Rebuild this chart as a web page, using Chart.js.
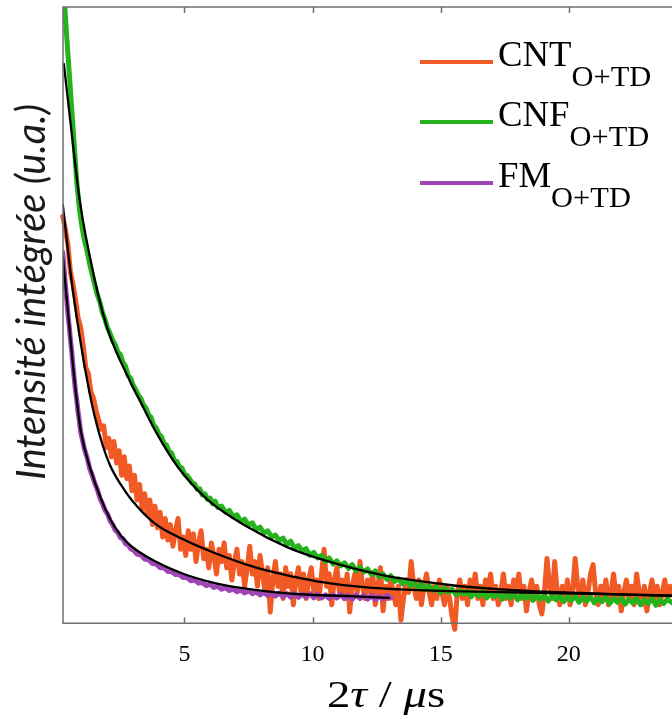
<!DOCTYPE html>
<html><head><meta charset="utf-8">
<script src="https://cdn.jsdelivr.net/npm/chart.js@4"></script>
<style>
html,body{margin:0;padding:0;background:#fff;}
#wrap{position:relative;width:672px;height:719px;overflow:hidden;}
#c{position:absolute;left:0;top:0;}
.t{position:absolute;white-space:nowrap;color:#000;font-family:'Liberation Serif','Times New Roman',serif;line-height:1;transform-origin:0 0;}
.leg{font-size:35px;transform:scaleX(1.05);}
.leg sub{font-size:29px;vertical-align:baseline;position:relative;top:20px;}
.ln{position:absolute;left:420px;width:73px;height:4px;}
#xt{font-size:38px;transform:scaleX(1.23);}
#yt{position:absolute;left:30px;top:292px;transform:translate(-50%,-50%) rotate(-90deg);white-space:nowrap;font-family:Lato,'Open Sans',sans-serif;font-style:italic;font-size:40px;line-height:1;color:#1a1a1a;}
</style></head><body>
<div id="wrap">
<canvas id="c" width="672" height="719"></canvas>
<div class="ln" style="top:60px;background:#F15A24"></div>
<div class="ln" style="top:120px;background:#24B31D"></div>
<div class="ln" style="top:181px;background:#A045B5"></div>
<div class="t leg" style="left:498px;top:37px">CNT<sub>O+TD</sub></div>
<div class="t leg" style="left:498px;top:97px">CNF<sub>O+TD</sub></div>
<div class="t leg" style="left:498px;top:158px">FM<sub>O+TD</sub></div>
<div class="t" id="xt" style="left:327px;top:675px">2<i>τ</i> / <i>μ</i>s</div>
<div id="yt">Intensité intégrée (u.a.)</div>
</div>
<script>
// x range of the visible plot and tick labels
const xRange = [0.26, 24.03];
const yRange = [0, 100];
const xTickValues = [5, 10, 15, 20];
const seriesNames = ['CNT O+TD', 'CNF O+TD', 'FM O+TD'];

// CNT (orange) measured data
const cntData = [[0.25,66],[0.35,64],[0.45,61.5],[0.55,57],[0.65,55],[0.75,52.5],[0.85,49.5],[0.95,48],[1.05,45],[1.15,41.5],[1.25,40.5],[1.35,37.5],[1.45,36.5],[1.55,34.5],[1.65,33],[1.75,31.5],[1.85,32],[1.95,28.5],[2.05,30],[2.15,27],[2.25,29.5],[2.35,26],[2.45,28],[2.55,24],[2.65,27],[2.75,23.5],[2.85,25.5],[2.95,21.5],[3.05,24],[3.15,20],[3.25,22.5],[3.35,18.5],[3.45,21],[3.55,17.5],[3.65,20],[3.75,16],[3.85,19],[3.95,15.5],[4.05,18],[4.15,14],[4.25,17],[4.35,13.5],[4.45,16],[4.55,12.5],[4.65,15],[4.75,17],[4.85,12],[4.95,14],[5.05,11],[5.15,15],[5.25,12],[5.35,14.5],[5.45,10],[5.55,13],[5.65,15],[5.75,10.5],[5.85,12],[5.95,9],[6.05,13],[6.15,11],[6.25,8],[6.35,12],[6.45,10],[6.55,13],[6.65,9],[6.75,11],[6.85,7],[6.95,10],[7.05,12],[7.15,8],[7.25,10],[7.35,6],[7.45,9],[7.55,12.5],[7.65,8],[7.75,10],[7.85,6],[7.95,11],[8.05,8],[8.15,5],[8.25,9],[8.35,1.8],[8.45,7],[8.55,10],[8.65,6],[8.75,8],[8.85,4],[8.95,9],[9.05,6],[9.15,8],[9.25,3],[9.35,7],[9.45,9],[9.55,5],[9.65,8],[9.75,4],[9.85,7],[9.95,9],[10.05,5],[10.15,7],[10.25,4],[10.35,8],[10.45,12],[10.55,6],[10.65,8],[10.75,3],[10.85,7],[10.95,9],[11.05,5],[11.15,7],[11.25,4],[11.35,8],[11.45,1.8],[11.55,6],[11.65,8],[11.75,5],[11.85,10],[11.95,6],[12.05,4],[12.15,7],[12.25,5],[12.35,8],[12.45,3],[12.55,6],[12.65,9],[12.75,2],[12.85,6],[12.95,4],[13.05,7],[13.15,5],[13.25,3],[13.35,6],[13.45,0.5],[13.55,4],[13.65,7],[13.75,5],[13.85,10],[13.95,6],[14.05,4],[14.15,7],[14.25,3],[14.35,6],[14.45,8],[14.55,5],[14.65,3],[14.75,6],[14.85,4],[14.95,7],[15.05,5],[15.15,3],[15.25,6],[15.35,4],[15.45,1],[15.55,-1],[15.65,5],[15.75,7],[15.85,4],[15.95,6],[16.05,3],[16.15,7],[16.25,5],[16.35,8],[16.45,4],[16.55,6],[16.65,3],[16.75,7],[16.85,5],[16.95,8],[17.05,4],[17.15,6],[17.25,3],[17.35,5],[17.45,8],[17.55,4],[17.65,6],[17.75,3],[17.85,7],[17.95,5],[18.05,8],[18.15,4],[18.25,6],[18.35,2],[18.45,5],[18.55,7],[18.65,4],[18.75,6],[18.85,3],[18.95,1.5],[19.05,5],[19.15,10.5],[19.25,6],[19.35,4],[19.45,10],[19.55,5],[19.65,3],[19.75,6],[19.85,4],[19.95,7],[20.05,3],[20.15,5],[20.25,10.5],[20.35,6],[20.45,4],[20.55,7],[20.65,3],[20.75,5],[20.85,8],[20.95,9.5],[21.05,5],[21.15,3],[21.25,6],[21.35,4],[21.45,7],[21.55,3],[21.65,5],[21.75,8],[21.85,4],[21.95,6],[22.05,2],[22.15,5],[22.25,7],[22.35,4],[22.45,6],[22.55,3],[22.65,8],[22.75,5],[22.85,3],[22.95,6],[23.05,2],[23.15,5],[23.25,7],[23.35,4],[23.45,6],[23.55,3],[23.65,5],[23.75,7],[23.85,4],[23.95,6],[24.05,5]];

// CNF (green) measured data
const cnfData = [[0.26,104],[0.33,100],[0.40,95.5],[0.50,89.5],[0.60,83.5],[0.70,77.5],[0.80,71.5],[0.90,67.2],[1.00,64.3],[1.10,62.1],[1.20,60.4],[1.30,58.3],[1.40,56.6],[1.50,54.9],[1.60,53.3],[1.70,52.1],[1.80,50.4],[1.90,49.3],[2.00,47.9],[2.10,47.0],[2.20,45.9],[2.30,45.2],[2.40,44.0],[2.50,43.6],[2.60,42.3],[2.70,41.7],[2.80,40.2],[2.90,39.8],[3.00,38.6],[3.10,37.9],[3.20,37.0],[3.30,36.5],[3.40,35.4],[3.50,34.9],[3.60,33.8],[3.70,33.4],[3.80,32.1],[3.90,31.7],[4.00,30.7],[4.10,30.3],[4.20,29.2],[4.30,28.9],[4.40,27.9],[4.50,27.6],[4.60,26.5],[4.70,26.3],[4.80,25.4],[4.90,25.2],[5.00,24.2],[5.10,24.0],[5.20,23.4],[5.30,22.8],[5.40,22.6],[5.50,21.7],[5.60,21.8],[5.70,20.8],[5.80,21.0],[5.90,20.1],[6.00,20.3],[6.10,19.4],[6.20,19.8],[6.30,18.8],[6.45,19.0],[6.60,18.0],[6.75,18.3],[6.90,17.3],[7.05,17.6],[7.20,16.5],[7.35,16.9],[7.50,15.9],[7.65,16.3],[7.80,15.2],[7.95,15.6],[8.10,14.6],[8.25,15.0],[8.40,14.0],[8.55,14.3],[8.70,13.4],[8.85,13.8],[9.00,12.8],[9.15,13.3],[9.30,12.1],[9.45,12.6],[9.60,11.7],[9.75,12.1],[9.90,11.0],[10.05,11.5],[10.20,10.6],[10.35,11.0],[10.50,10.0],[10.65,10.6],[10.80,9.6],[10.95,10.1],[11.10,9.3],[11.25,9.8],[11.40,8.9],[11.55,9.5],[11.70,8.5],[11.85,9.1],[12.00,8.3],[12.15,8.8],[12.30,7.9],[12.45,8.5],[12.60,7.5],[12.75,8.0],[12.90,7.1],[13.05,7.7],[13.20,6.8],[13.35,7.2],[13.50,6.4],[13.65,7.0],[13.80,6.1],[13.95,6.6],[14.10,5.8],[14.25,6.4],[14.40,5.5],[14.55,6.1],[14.70,5.3],[14.85,5.9],[15.00,4.9],[15.15,5.7],[15.30,5.0],[15.45,5.5],[15.60,4.6],[15.75,5.3],[15.90,4.7],[16.05,5.2],[16.20,4.3],[16.35,5.0],[16.50,4.4],[16.65,5.1],[16.80,4.1],[16.95,4.8],[17.10,4.3],[17.25,4.9],[17.40,3.9],[17.55,4.7],[17.70,4.1],[17.85,4.8],[18.00,3.8],[18.15,4.6],[18.30,4.0],[18.45,4.7],[18.60,3.7],[18.75,4.5],[18.90,3.9],[19.05,4.6],[19.20,3.6],[19.35,4.4],[19.50,3.8],[19.65,4.5],[19.80,3.5],[19.95,4.3],[20.10,3.7],[20.25,4.4],[20.40,3.4],[20.55,4.2],[20.70,3.6],[20.85,4.3],[21.00,3.3],[21.15,4.1],[21.30,3.5],[21.45,4.2],[21.60,3.2],[21.75,4.0],[21.90,3.4],[22.05,4.1],[22.20,3.1],[22.35,3.9],[22.50,3.3],[22.65,4.0],[22.80,3.0],[22.95,3.8],[23.10,3.2],[23.25,4.0],[23.40,2.9],[23.55,3.8],[23.70,3.2],[23.85,3.9],[24.05,3.3]];

// FM (purple) measured data
const fmData = [[0.25,60.2],[0.30,57.6],[0.35,55.0],[0.40,52.8],[0.45,50.3],[0.50,48.3],[0.55,46.1],[0.60,44.1],[0.65,41.7],[0.70,39.7],[0.75,37.6],[0.80,36.1],[0.85,34.2],[0.90,32.7],[0.95,31.0],[1.00,30.1],[1.10,28.2],[1.20,26.9],[1.30,25.1],[1.40,24.0],[1.50,22.7],[1.60,21.7],[1.70,20.3],[1.80,19.4],[1.90,18.3],[2.00,17.7],[2.10,16.6],[2.20,16.0],[2.30,15.1],[2.40,14.7],[2.50,13.9],[2.60,13.7],[2.70,12.9],[2.80,12.7],[2.90,12.1],[3.00,11.9],[3.15,11.2],[3.30,11.1],[3.45,10.4],[3.60,10.3],[3.75,9.7],[3.90,9.6],[4.05,9.0],[4.20,9.0],[4.35,8.4],[4.50,8.4],[4.65,7.9],[4.80,7.9],[4.95,7.4],[5.10,7.4],[5.25,6.9],[5.40,7.0],[5.55,6.5],[5.70,6.6],[5.85,6.1],[6.00,6.3],[6.15,5.8],[6.30,6.0],[6.45,5.5],[6.60,5.8],[6.75,5.3],[6.90,5.6],[7.05,5.1],[7.20,5.4],[7.35,4.9],[7.50,5.3],[7.65,4.8],[7.80,5.1],[7.95,4.6],[8.10,5.0],[8.25,4.5],[8.40,4.9],[8.55,4.4],[8.70,4.9],[8.85,4.3],[9.00,4.8],[9.15,4.2],[9.30,4.8],[9.45,4.2],[9.60,4.7],[9.75,4.2],[9.90,4.8],[10.05,4.1],[10.20,4.7],[10.35,4.1],[10.50,4.6],[10.65,4.0],[10.80,4.6],[10.95,4.1],[11.10,4.7],[11.25,4.0],[11.40,4.5],[11.55,3.9],[11.70,4.6],[11.85,4.0],[12.00,4.5],[12.15,3.9],[12.30,4.5],[12.45,3.8],[12.60,4.4],[12.75,3.9],[12.90,4.5],[13.05,4.1]];

// fitted curves (black)
const cntFit = [[0.25,68.0],[0.59,55.7],[0.91,46.5],[1.23,38.8],[1.50,33.5],[1.80,29.0],[2.10,25.6],[2.50,22.6],[2.94,20.0],[3.84,16.2],[5.01,13.5],[6.18,11.4],[7.74,9.1],[9.31,7.5],[10.16,6.8],[12.11,5.8],[13.40,5.5],[15.36,5.2],[19.26,4.9],[24.03,4.5]];
const cnfFit = [[0.29,90.9],[0.60,79.5],[0.91,68.7],[1.50,55.7],[2.01,47.6],[2.86,39.4],[3.25,36.2],[3.92,30.8],[4.75,25.3],[5.91,20.0],[7.47,15.6],[9.03,12.3],[10.16,10.6],[12.74,7.8],[15.36,6.2],[17.31,5.5],[20.43,4.9],[24.03,4.4]];
const fmFit = [[0.25,59.6],[0.52,47.6],[0.71,39.4],[0.95,31.3],[1.31,25.3],[1.77,19.9],[2.28,15.6],[2.79,13.0],[3.57,10.7],[4.90,8.1],[6.19,6.5],[7.75,5.4],[9.50,4.7],[11.45,4.4],[13.01,4.1]];

const colors = {cnt:'#F15A24', cnf:'#24B31D', fm:'#A045B5', fit:'#000000', axis:'#6f6f6f'};
const pts = a => a.map(([x,y]) => ({x, y}));

const frame = {
  id: 'frame',
  afterDatasetsDraw(chart) {
    const {ctx, chartArea: a, scales: {x}} = chart;
    ctx.save();
    ctx.strokeStyle = colors.axis;
    ctx.lineWidth = 1.5;
    ctx.beginPath();
    ctx.moveTo(a.right + 2, a.top); ctx.lineTo(a.left, a.top);
    ctx.lineTo(a.left, a.bottom); ctx.lineTo(a.right + 2, a.bottom);
    for (const v of xTickValues) {
      const px = Math.round(x.getPixelForValue(v)) + 0.5;
      ctx.moveTo(px, a.bottom); ctx.lineTo(px, a.bottom - 6);
      ctx.moveTo(px, a.top); ctx.lineTo(px, a.top + 6);
    }
    ctx.stroke();
    ctx.restore();
  }
};

const dataLine = (label, d, c, ord, clip) => ({label, data: pts(d), borderColor: c, backgroundColor: c,
  borderWidth: 5, pointRadius: 0, tension: 0, borderJoinStyle: 'round', borderCapStyle: 'round', order: ord, clip});
const fitLine = (label, d) => ({label, data: pts(d), borderColor: colors.fit, borderWidth: 2.3, pointRadius: 0,
  cubicInterpolationMode: 'monotone', order: 0});

new Chart(document.getElementById('c'), {
  type: 'line',
  data: { datasets: [
    fitLine('CNT fit', cntFit), fitLine('CNF fit', cnfFit), fitLine('FM fit', fmFit),
    dataLine(seriesNames[2], fmData, colors.fm, 1),
    dataLine(seriesNames[1], cnfData, colors.cnf, 2),
    dataLine(seriesNames[0], cntData, colors.cnt, 3, {left: 3, top: 0, right: 0, bottom: 10})
  ]},
  options: {
    responsive: false, animation: false, devicePixelRatio: 1,
    layout: { padding: { left: 63, top: 7, right: 0, bottom: 33 } },
    plugins: { legend: { display: false }, tooltip: { enabled: false } },
    scales: {
      x: { type: 'linear', min: xRange[0], max: xRange[1],
        afterBuildTicks: s => { s.ticks = xTickValues.map(v => ({value: v})); },
        ticks: { font: { family: 'Liberation Serif', size: 24 }, color: '#000', padding: 17, maxRotation: 0, autoSkip: false },
        grid: { display: false, drawTicks: false }, border: { display: false } },
      y: { display: false, min: yRange[0], max: yRange[1] }
    }
  },
  plugins: [frame]
});
</script>
</body></html>
